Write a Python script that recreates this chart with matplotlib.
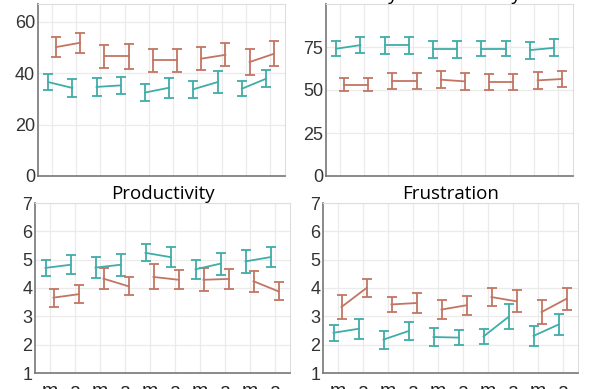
import numpy as np
import matplotlib
matplotlib.use("Agg")
import matplotlib.pyplot as plt

# conditions: 5 groups, each with an "m" and an "a" measurement
tick_labels = ["m", "a"] * 5

# Workload (0-67)
load_teal = [36.6, 34.3, 34.7, 35.3, 32.5, 34.4, 33.8, 36.6, 34.0, 37.9]
load_teal_err = [3.1, 3.4, 3.6, 3.4, 3.2, 3.9, 3.4, 4.2, 3.0, 3.2]
load_red = [50.2, 51.9, 46.6, 46.6, 45.0, 45.0, 45.7, 47.2, 44.4, 47.6]
load_red_err = [3.9, 3.8, 4.5, 4.8, 4.5, 4.5, 4.5, 4.5, 5.1, 4.9]

# System Usability (0-100)
sus_teal = [74.0, 76.1, 75.9, 75.9, 73.6, 73.6, 74.1, 74.1, 73.2, 74.5]
sus_teal_err = [4.4, 4.7, 4.7, 4.7, 4.9, 4.9, 4.6, 4.6, 4.9, 4.9]
sus_red = [53.1, 53.1, 55.0, 55.0, 56.0, 55.0, 54.5, 54.5, 55.6, 56.4]
sus_red_err = [3.6, 3.9, 4.6, 4.6, 4.9, 5.1, 4.7, 4.7, 5.1, 4.9]

# Productivity (1-7)
prod_teal = [4.71, 4.82, 4.72, 4.82, 5.24, 5.09, 4.66, 4.86, 4.94, 5.09]
prod_teal_err = [0.28, 0.34, 0.36, 0.39, 0.30, 0.34, 0.34, 0.39, 0.41, 0.36]
prod_red = [3.66, 3.78, 4.33, 4.06, 4.39, 4.29, 4.29, 4.32, 4.24, 3.88]
prod_red_err = [0.32, 0.31, 0.38, 0.32, 0.44, 0.34, 0.40, 0.34, 0.37, 0.32]

# Frustration (1-7)
frus_teal = [2.42, 2.56, 2.18, 2.48, 2.27, 2.25, 2.29, 2.98, 2.31, 2.71]
frus_teal_err = [0.29, 0.35, 0.32, 0.32, 0.31, 0.26, 0.26, 0.44, 0.34, 0.36]
frus_red = [3.33, 4.00, 3.42, 3.47, 3.24, 3.39, 3.68, 3.53, 3.15, 3.62]
frus_red_err = [0.43, 0.32, 0.28, 0.36, 0.34, 0.33, 0.32, 0.39, 0.41, 0.38]

TEAL = "#3fada8"
RED = "#c27563"

W, H = 600, 389
fig = plt.figure(figsize=(6, 3.89), dpi=100)


def box(l, r, t, b):
    return [l / W, (H - b) / H, (r - l) / W, (b - t) / H]


panels = [
    ("Workload", box(38, 285, 4, 176), (0, 67), [0, 20, 40, 60], load_teal, load_teal_err, load_red, load_red_err, "#cccccc", False),
    ("System Usability", box(326, 573, 4, 176), (0, 100), [0, 25, 50, 75], sus_teal, sus_teal_err, sus_red, sus_red_err, "black", False),
    ("Productivity", box(35, 290, 203, 373), (1, 7), range(1, 8), prod_teal, prod_teal_err, prod_red, prod_red_err, "black", True),
    ("Frustration", box(323, 578, 203, 373), (1, 7), range(1, 8), frus_teal, frus_teal_err, frus_red, frus_red_err, "black", True),
]

x = np.arange(10)
for title, rect, ylim, yticks, tv, te, rv, re, tcol, show_x in panels:
    ax = fig.add_axes(rect)
    for i in range(5):
        sl = slice(2 * i, 2 * i + 2)
        ax.errorbar(x[sl] - 0.16, tv[sl], yerr=te[sl], color=TEAL, lw=1.3,
                    elinewidth=1.3, capsize=3.5, capthick=1.3)
        ax.errorbar(x[sl] + 0.16, rv[sl], yerr=re[sl], color=RED, lw=1.3,
                    elinewidth=1.3, capsize=3.5, capthick=1.3)
    ax.set_xlim(-0.58, 9.62)
    ax.set_ylim(*ylim)
    ax.set_yticks(list(yticks))
    ax.set_xticks(x)
    if show_x:
        ax.set_xticklabels(tick_labels, fontsize=14, family="Liberation Sans", color="#222222")
    else:
        ax.set_xticklabels([])
    ax.tick_params(axis="y", labelsize=13, colors="#333333", length=0, pad=2)
    ax.tick_params(axis="x", length=0, pad=7)
    for lab in ax.get_yticklabels():
        lab.set_family("Liberation Sans")
    ax.grid(True, color="#ebebeb", lw=0.9)
    ax.set_axisbelow(True)
    for s in ["top", "right"]:
        ax.spines[s].set_color("#dddddd")
    for s in ["left", "bottom"]:
        ax.spines[s].set_color("#777777")
        ax.spines[s].set_linewidth(1.2)
    ax.set_title(title, fontsize=13.5, family="Open Sans", color=tcol, pad=1)

fig.savefig("out.png", dpi=100)
